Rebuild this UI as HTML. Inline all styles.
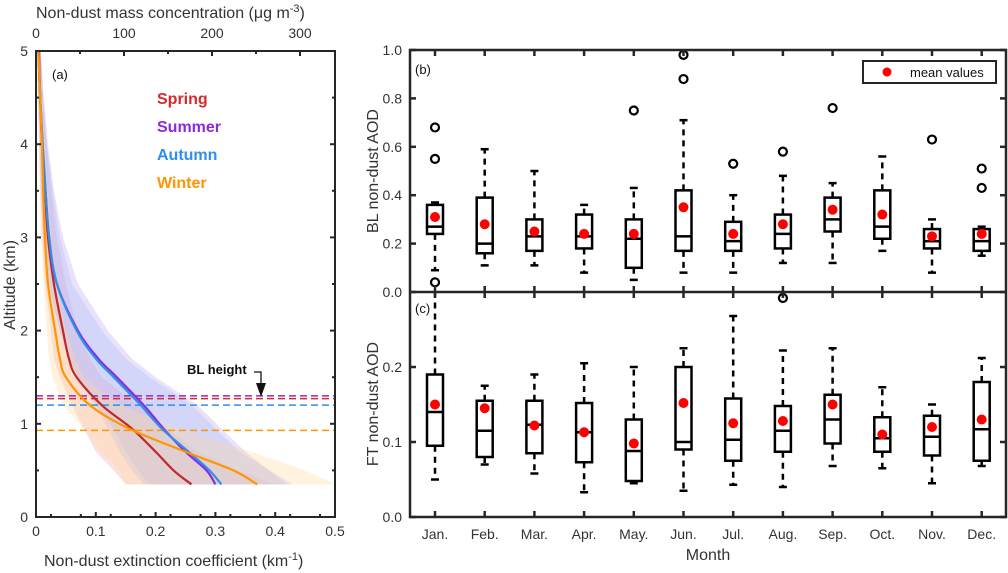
<!DOCTYPE html>
<html><head><meta charset="utf-8"><style>
body{margin:0;background:#fff;}
svg{display:block;font-family:"Liberation Sans",sans-serif;}
</style></head><body>
<svg id="s" width="1008" height="573" viewBox="0 0 1008 573" xmlns="http://www.w3.org/2000/svg"></svg>
<script>
// ---- Panel (a) data ----
const altitudes=[0.35,0.5,0.7,0.95,1.2,1.5,1.7,2.0,2.5,3.0,3.5,4.0,4.5,5.0];
const springExt=[0.26,0.23,0.20,0.16,0.11,0.068,0.055,0.045,0.03,0.02,0.015,0.01,0.007,0.005];
const summerExt=[0.30,0.285,0.25,0.213,0.18,0.135,0.104,0.07,0.035,0.022,0.016,0.011,0.007,0.004];
const autumnExt=[0.31,0.29,0.255,0.21,0.175,0.13,0.10,0.068,0.035,0.022,0.016,0.011,0.007,0.004];
const winterExt=[0.37,0.33,0.25,0.155,0.09,0.05,0.04,0.032,0.02,0.015,0.012,0.01,0.007,0.004];
const springLo=[0.15,0.13,0.10,0.08,0.06,0.04,0.03,0.025,0.015,0.01,0.007,0.005,0.003,0.002];
const springHi=[0.40,0.34,0.27,0.22,0.17,0.11,0.09,0.07,0.05,0.035,0.025,0.018,0.012,0.008];
const summerLo=[0.19,0.17,0.15,0.13,0.10,0.07,0.055,0.04,0.02,0.012,0.008,0.006,0.004,0.002];
const summerHi=[0.42,0.39,0.35,0.31,0.27,0.20,0.16,0.12,0.07,0.045,0.03,0.02,0.013,0.008];
const autumnLo=[0.18,0.16,0.14,0.12,0.10,0.07,0.055,0.04,0.02,0.012,0.008,0.006,0.004,0.002];
const autumnHi=[0.43,0.39,0.34,0.30,0.26,0.19,0.15,0.11,0.06,0.04,0.028,0.018,0.012,0.008];
const winterLo=[0.15,0.14,0.11,0.08,0.045,0.028,0.022,0.018,0.012,0.008,0.006,0.005,0.003,0.002];
const winterHi=[0.50,0.45,0.36,0.24,0.14,0.08,0.065,0.05,0.035,0.025,0.02,0.015,0.01,0.007];
const seasonNames=["Spring","Summer","Autumn","Winter"];
const blHeights=[1.27,1.30,1.20,0.93];
const xTicksA=[0,0.1,0.2,0.3,0.4,0.5];
const yTicksA=[0,1,2,3,4,5];
const topTicksA=[0,100,200,300];
// ---- Panels (b),(c) data ----
const months=["Jan.","Feb.","Mar.","Apr.","May.","Jun.","Jul.","Aug.","Sep.","Oct.","Nov.","Dec."];
const blWlo=[0.09,0.11,0.11,0.08,0.05,0.08,0.08,0.12,0.12,0.17,0.08,0.15];
const blQ1=[0.24,0.16,0.17,0.18,0.10,0.17,0.17,0.18,0.25,0.22,0.18,0.17];
const blMed=[0.27,0.20,0.23,0.23,0.22,0.23,0.21,0.24,0.30,0.27,0.21,0.21];
const blQ3=[0.36,0.39,0.30,0.32,0.30,0.42,0.29,0.32,0.39,0.42,0.26,0.26];
const blWhi=[0.37,0.59,0.50,0.36,0.43,0.71,0.40,0.48,0.45,0.56,0.30,0.27];
const blMean=[0.31,0.28,0.25,0.24,0.24,0.35,0.24,0.28,0.34,0.32,0.23,0.24];
const blOutliers=[[0.68,0.55,0.04],[],[],[],[0.75],[0.88,0.98],[0.53],[0.58],[0.76],[],[0.63],[0.51,0.43]];
const ftWlo=[0.05,0.07,0.058,0.033,0.045,0.035,0.043,0.04,0.068,0.065,0.045,0.068];
const ftQ1=[0.095,0.08,0.085,0.073,0.048,0.09,0.075,0.087,0.098,0.087,0.082,0.075];
const ftMed=[0.14,0.115,0.123,0.113,0.088,0.10,0.103,0.115,0.13,0.105,0.107,0.117];
const ftQ3=[0.19,0.155,0.155,0.152,0.13,0.20,0.158,0.148,0.163,0.133,0.135,0.18];
const ftWhi=[0.30,0.175,0.19,0.205,0.20,0.225,0.268,0.222,0.225,0.173,0.15,0.212];
const ftMean=[0.15,0.145,0.122,0.113,0.098,0.152,0.125,0.128,0.15,0.11,0.12,0.13];
const ftOutliers=[[],[],[],[],[],[],[],[0.292],[],[],[],[]];
const yTicksB=[0,0.2,0.4,0.6,0.8,1.0];
const yTicksC=[0,0.1,0.2];

const NS="http://www.w3.org/2000/svg";
const svg=document.getElementById('s');
function el(tag,attrs,parent){const e=document.createElementNS(NS,tag);for(const k in attrs)e.setAttribute(k,attrs[k]);(parent||svg).appendChild(e);return e;}
function txt(s,attrs,parent){const e=el('text',attrs,parent);e.textContent=s;return e;}
const AX="#262626",TC="#333";
function smooth(pts){let d='M'+pts[0][0]+','+pts[0][1];for(let i=1;i<pts.length;i++){const p0=pts[i-2]||pts[i-1],p1=pts[i-1],p2=pts[i],p3=pts[i+1]||p2;
 const c1=[p1[0]+(p2[0]-p0[0])/6,p1[1]+(p2[1]-p0[1])/6],c2=[p2[0]-(p3[0]-p1[0])/6,p2[1]-(p3[1]-p1[1])/6];
 d+='C'+c1[0]+','+c1[1]+' '+c2[0]+','+c2[1]+' '+p2[0]+','+p2[1];}return d;}

// ---------- Panel (a) ----------
const aL=36,aR=335,aT=51,aB=517;
const xA=v=>aL+(v/0.5)*(aR-aL);
const yA=v=>aB-(v/5)*(aB-aT);
const xTop=v=>aL+v*0.88;
const gA=el('g',{});


const cols=["#d42a2a","#8a2be2","#2f8fec","#ff9500"];
const bandCols=["#f4a6a6","#c4a8f2","#a8bff7","#ffd9a0"];
const lines=[springExt,summerExt,autumnExt,winterExt];
const los=[springLo,summerLo,autumnLo,winterLo];
const his=[springHi,summerHi,autumnHi,winterHi];
for(let s=0;s<4;s++){
  let d='';
  altitudes.forEach((a,i)=>{d+=(i?'L':'M')+xA(his[s][i])+','+yA(a);});
  for(let i=altitudes.length-1;i>=0;i--)d+='L'+xA(los[s][i])+','+yA(altitudes[i]);
  const p=el('path',{d:d+'Z',fill:bandCols[s],'fill-opacity':0.35,stroke:'none'},gA);
  
  
}
for(let s=0;s<4;s++){
  const y=yA(blHeights[s]);
  const l=el('line',{x1:aL,x2:aR,y1:y,y2:y,stroke:cols[s],'stroke-width':1.5,'stroke-dasharray':'7,4'},gA);
  
  
}
for(let s=0;s<4;s++){
  const d=smooth(altitudes.map((a,i)=>[xA(lines[s][i]),yA(a)]));
  const p=el('path',{d,fill:'none',stroke:s==0?'#c0282e':cols[s],'stroke-width':2.2},gA);
  
  
}
const fa=el('rect',{x:aL,y:aT,width:aR-aL,height:aB-aT,fill:'none',stroke:AX,'stroke-width':2},gA);


xTicksA.forEach(v=>{const x=xA(v);el('line',{x1:x,x2:x,y1:aB,y2:aB-5,stroke:AX,'stroke-width':2},gA);
  const t=txt(String(v),{x:x,y:aB+19,'font-size':14,fill:TC,'text-anchor':'middle'},gA);
  });
for(let v=0.025;v<0.5;v+=0.05){const x=xA(v);el('line',{x1:x,x2:x,y1:aB,y2:aB-3,stroke:AX,'stroke-width':2},gA);}
yTicksA.forEach(v=>{const y=yA(v);el('line',{x1:aL,x2:aL+5,y1:y,y2:y,stroke:AX,'stroke-width':2},gA);el('line',{x1:aR,x2:aR-5,y1:y,y2:y,stroke:AX,'stroke-width':2},gA);
  const t=txt(String(v),{x:aL-8,y:y+5,'font-size':14,fill:TC,'text-anchor':'end'},gA);
  });
for(let v=0.5;v<5;v+=1){const y=yA(v);el('line',{x1:aL,x2:aL+3,y1:y,y2:y,stroke:AX,'stroke-width':2},gA);el('line',{x1:aR,x2:aR-3,y1:y,y2:y,stroke:AX,'stroke-width':2},gA);}
topTicksA.forEach(v=>{const x=xTop(v);el('line',{x1:x,x2:x,y1:aT,y2:aT+5,stroke:AX,'stroke-width':2},gA);
  const t=txt(String(v),{x:x,y:aT-13,'font-size':14,fill:TC,'text-anchor':'middle'},gA);
  });
for(let v=50;v<340;v+=50){if(v%100)el('line',{x1:xTop(v),x2:xTop(v),y1:aT,y2:aT+3,stroke:AX,'stroke-width':2},gA);}
let t;
t=txt('Non-dust mass concentration (μg m',{x:36,y:18,'font-size':16,fill:TC},gA);
const sup=el('tspan',{dy:-6,'font-size':11},t);sup.textContent='-3';
const cl=el('tspan',{dy:6},t);cl.textContent=')';

t=txt('Non-dust extinction coefficient (km',{x:44,y:566,'font-size':16,fill:TC},gA);
const sup2=el('tspan',{dy:-6,'font-size':11},t);sup2.textContent='-1';
const cl2=el('tspan',{dy:6},t);cl2.textContent=')';

t=txt('Altitude (km)',{x:0,y:0,'font-size':16,fill:TC,'text-anchor':'middle',transform:'translate(15,285) rotate(-90)'},gA);

t=txt('(a)',{x:52,y:79,'font-size':13,fill:'#111'},gA);

seasonNames.forEach((n,i)=>{const tt=txt(n,{x:157,y:104+i*28,'font-size':16,'font-weight':'bold',fill:cols[i]},gA);
  });
t=txt('BL height',{x:187,y:374,'font-size':13,'font-weight':'bold',fill:'#111'},gA);

const arL=el('path',{d:'M254,372 L261,372 L261,386',fill:'none',stroke:'#111','stroke-width':1.3},gA);

const ar=el('path',{d:'M256,383 L266,383 L261,397 Z',fill:'#111'},gA);


// ---------- Panels (b),(c) ----------
const bL=410,bR=1006,bT=50,bM=292,cB=517;
const xM=i=>435+i*49.7;
const yB=v=>bM-v*(bM-bT);
const yC=v=>cB-v*(cB-bM)/0.3;
function boxPanel(name,ys,wlo,q1,med,q3,whi,mean,outl,clipTop){
  const g=el('g',{});
  
  
  months.forEach((m,i)=>{
    const x=xM(i),hw=8;
    const top=Math.max(ys(whi[i]),clipTop);
    const w1=el('line',{x1:x,x2:x,y1:ys(q3[i]),y2:top,stroke:'#000','stroke-width':2.5,'stroke-dasharray':'6,5'},g);
    
    const w2=el('line',{x1:x,x2:x,y1:ys(q1[i]),y2:ys(wlo[i]),stroke:'#000','stroke-width':2.5,'stroke-dasharray':'6,5'},g);
    
    if(ys(whi[i])>clipTop)el('line',{x1:x-4,x2:x+4,y1:ys(whi[i]),y2:ys(whi[i]),stroke:'#000','stroke-width':2.5},g);
    el('line',{x1:x-4,x2:x+4,y1:ys(wlo[i]),y2:ys(wlo[i]),stroke:'#000','stroke-width':2.5},g);
    const b=el('rect',{x:x-hw,y:ys(q3[i]),width:2*hw,height:ys(q1[i])-ys(q3[i]),fill:'none',stroke:'#000','stroke-width':2.5},g);
    
    const md=el('line',{x1:x-hw,x2:x+hw,y1:ys(med[i]),y2:ys(med[i]),stroke:'#000','stroke-width':2.5},g);
    
    outl[i].forEach(o=>{const c=el('circle',{cx:x,cy:ys(o),r:4,fill:'none',stroke:'#000','stroke-width':2.2},g);
      });
    const mc=el('circle',{cx:x,cy:ys(mean[i]),r:5,fill:'#ff0000'},g);
    
  });
  return g;
}
boxPanel('panel-b',yB,blWlo,blQ1,blMed,blQ3,blWhi,blMean,blOutliers,bT);
boxPanel('panel-c',yC,ftWlo,ftQ1,ftMed,ftQ3,ftWhi,ftMean,ftOutliers,bM);
const fb=el('rect',{x:bL,y:bT,width:bR-bL,height:cB-bT,fill:'none',stroke:AX,'stroke-width':2.5});

const sep=el('line',{x1:bL,x2:bR,y1:bM,y2:bM,stroke:AX,'stroke-width':2.5});

months.forEach((m,i)=>{const x=xM(i);
  [bT,bM-6,bM,cB-6].forEach(y=>el('line',{x1:x,x2:x,y1:y,y2:y+6,stroke:AX,'stroke-width':2.5}));
  const tt=txt(m,{x:x,y:cB+22,'font-size':14,fill:TC,'text-anchor':'middle'});
  });
yTicksB.forEach(v=>{const y=yB(v);el('line',{x1:bL,x2:bL+6,y1:y,y2:y,stroke:AX,'stroke-width':2.5});el('line',{x1:bR,x2:bR-6,y1:y,y2:y,stroke:AX,'stroke-width':2.5});
  const tt=txt(v.toFixed(1),{x:bL-8,y:y+5,'font-size':14,fill:TC,'text-anchor':'end'});
  });
yTicksC.forEach(v=>{const y=yC(v);el('line',{x1:bL,x2:bL+6,y1:y,y2:y,stroke:AX,'stroke-width':2.5});el('line',{x1:bR,x2:bR-6,y1:y,y2:y,stroke:AX,'stroke-width':2.5});
  const tt=txt(v.toFixed(1),{x:bL-8,y:y+5,'font-size':14,fill:TC,'text-anchor':'end'});
  });
t=txt('BL non-dust AOD',{x:0,y:0,'font-size':16,fill:TC,'text-anchor':'middle',transform:'translate(378,171) rotate(-90)'});

t=txt('FT non-dust AOD',{x:0,y:0,'font-size':16,fill:TC,'text-anchor':'middle',transform:'translate(378,404) rotate(-90)'});

t=txt('Month',{x:708,y:560,'font-size':16,fill:TC,'text-anchor':'middle'});

t=txt('(b)',{x:415,y:74,'font-size':13,fill:'#111'});

t=txt('(c)',{x:415,y:313,'font-size':13,fill:'#111'});

const lg=el('g',{});

el('rect',{x:863,y:61,width:133,height:22,fill:'#fff',stroke:AX,'stroke-width':2},lg);
el('circle',{cx:887,cy:72,r:4.5,fill:'#ff0000'},lg);
txt('mean values',{x:910,y:77,'font-size':13,fill:'#111'},lg);
</script>
</body></html>
